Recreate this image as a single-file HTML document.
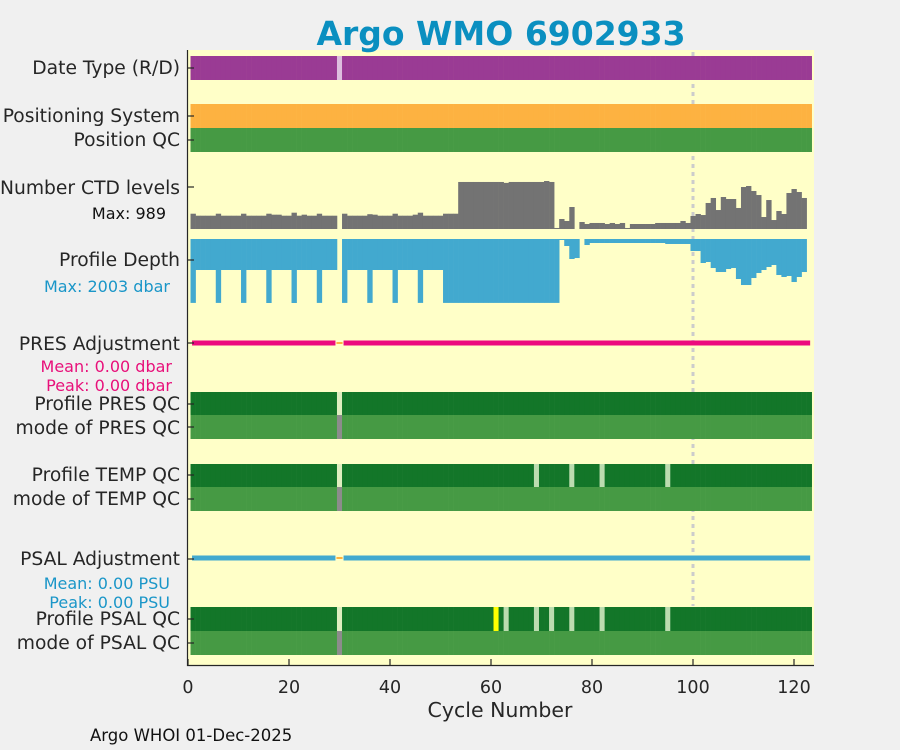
<!DOCTYPE html>
<html><head><meta charset="utf-8"><style>
body{margin:0;background:#f0f0f0;}
svg{display:block;font-family:"DejaVu Sans","Liberation Sans",sans-serif;}
</style></head><body>
<svg id="c" width="900" height="750">
<rect width="900" height="750" fill="#f0f0f0"/>
<rect x="188" y="50" width="626" height="615" fill="#ffffc8"/>
<text x="501" y="45" text-anchor="middle" font-size="33" font-weight="bold" fill="#0a8fc0">Argo WMO 6902933</text>
<g id="marks"></g>
<g font-size="18.7" fill="#262626" text-anchor="end">
<text x="180" y="74">Date Type (R/D)</text>
<text x="180" y="122">Positioning System</text>
<text x="180" y="146">Position QC</text>
<text x="180" y="194">Number CTD levels</text>
<text x="180" y="266">Profile Depth</text>
<text x="180" y="350">PRES Adjustment</text>
<text x="180" y="410">Profile PRES QC</text>
<text x="180" y="434">mode of PRES QC</text>
<text x="180" y="481">Profile TEMP QC</text>
<text x="180" y="505">mode of TEMP QC</text>
<text x="180" y="565">PSAL Adjustment</text>
<text x="180" y="625">Profile PSAL QC</text>
<text x="180" y="649">mode of PSAL QC</text>
</g>
<g font-size="16" text-anchor="end">
<text x="166" y="219" fill="#111">Max: 989</text>
<text x="170" y="292" fill="#1a96c8">Max: 2003 dbar</text>
<text x="172" y="372" fill="#e8107a">Mean: 0.00 dbar</text>
<text x="172" y="391" fill="#e8107a">Peak: 0.00 dbar</text>
<text x="170" y="589" fill="#1a96c8">Mean: 0.00 PSU</text>
<text x="170" y="608" fill="#1a96c8">Peak: 0.00 PSU</text>
</g>
<text x="500" y="717" text-anchor="middle" font-size="20.5" fill="#262626">Cycle Number</text>
<text x="90" y="741" font-size="16.5" fill="#111">Argo WHOI 01-Dec-2025</text>
</svg>
<script>
const xTicks = [0,20,40,60,80,100,120];
const nCycles = 123;
const missingCycles = [30];
const ctdLevels = [315,274,274,274,274,315,274,274,274,274,315,274,274,274,274,315,295,295,274,274,336,274,295,274,274,315,274,274,274,null,
315,274,274,274,274,305,295,274,274,274,315,274,274,274,295,336,274,274,274,274,315,315,315,969,969,969,969,969,969,969,969,969,950,969,969,969,969,969,969,969,989,969,
21,206,165,453,null,144,103,124,124,124,103,124,103,124,21,103,103,103,103,103,124,124,124,124,124,165,124,268,309,288,536,639,391,659,618,618,433,865,886,783,700,247,597,185,371,309,742,824,762,639];
const profileDepth = [2000,970,970,970,970,2000,970,970,970,970,2000,970,970,970,970,2003,970,970,970,970,2003,970,970,970,970,2000,970,970,970,null,
2000,970,970,970,970,2000,970,970,970,970,2000,970,970,970,970,2000,970,970,970,970,2000,2000,2000,2000,2000,2000,2000,2000,2000,2000,2000,2000,2000,2000,2000,2000,2000,2000,2000,2000,2000,2000,2000,
31,219,626,595,null,188,125,125,125,125,125,125,125,125,125,125,125,125,125,125,125,156,156,156,156,156,376,376,751,720,908,1033,1033,939,908,1252,1440,1440,1221,1064,970,876,814,1127,1189,1158,1346,1189,1033];
const tempQcFlagged = [69,76,82,95];
const psalQcFlagged = [63,69,72,76,82,95];
const psalQcBad = [61];
const ctdMax = 989, depthMax = 2003;

const svg = document.getElementById('c');
const g = document.getElementById('marks');
const NS = 'http://www.w3.org/2000/svg';
const X0 = 188, XS = 5.05;
function xs(c){ return X0 + c*XS; }
function el(tag, attrs, parent){ const e = document.createElementNS(NS, tag); for (const k in attrs) e.setAttribute(k, attrs[k]); (parent||g).appendChild(e); return e; }

const dl = el('line', {x1:xs(100), x2:xs(100), y1:52, y2:606, stroke:'#cccccc', 'stroke-width':3, 'stroke-dasharray':'4,4'});



function row(y0, y1, color, name, special){
  for (let c = 1; c <= nCycles; c++){
    let col = color;
    if (special && special[c]) col = special[c];
    const r = el('rect', {x:xs(c-0.5), y:y0, width:XS+0.3, height:y1-y0, fill:col});
    
    
  }
}
const m30 = {}; missingCycles.forEach(c => m30[c] = '#ddbede');
row(56, 80, '#9a3b94', 'date-type', m30);
row(104, 128, '#fdb241', 'positioning-system');
row(128, 152, '#469a44', 'position-qc');
const presQcSp = {}; missingCycles.forEach(c => presQcSp[c] = '#dfeec0');
row(392, 415, '#137629', 'profile-pres-qc', presQcSp);
const modeSp = {}; missingCycles.forEach(c => modeSp[c] = '#8c8c8c');
row(415, 439, '#469a44', 'mode-pres-qc', modeSp);
const tSp = {}; missingCycles.forEach(c => tSp[c] = '#dfeec0'); tempQcFlagged.forEach(c => tSp[c] = '#bcdcb0');
row(464, 487, '#137629', 'profile-temp-qc', tSp);
row(487, 511, '#469a44', 'mode-temp-qc', modeSp);
const sSp = {}; missingCycles.forEach(c => sSp[c] = '#dfeec0'); psalQcFlagged.forEach(c => sSp[c] = '#bcdcb0'); psalQcBad.forEach(c => sSp[c] = '#ffff00');
row(607, 631, '#137629', 'profile-psal-qc', sSp);
row(631, 655, '#469a44', 'mode-psal-qc', modeSp);

const ctdBase = 229, ctdH = 48;
ctdLevels.forEach((v, i) => {
  if (v == null) return;
  const h = v / ctdMax * ctdH;
  const r = el('rect', {x:xs(i+0.5), y:ctdBase-h, width:XS+0.3, height:h, fill:'#737373'});
  
  
});
const depTop = 239, depH = 64;
profileDepth.forEach((v, i) => {
  if (v == null) return;
  const h = v / depthMax * depH;
  const r = el('rect', {x:xs(i+0.5), y:depTop, width:XS+0.3, height:h, fill:'#42a9cf'});
  
  
});
function adjLine(y, color, name){
  const a = el('rect', {x:xs(1)-1, y:y-2.5, width:xs(29)-xs(1)+2, height:5, fill:color});
  
  
  const b = el('rect', {x:xs(31)-1, y:y-2.5, width:xs(123)-xs(31)+2, height:5, fill:color});
  
  
  const gp = el('rect', {x:xs(29)+2, y:y-1, width:xs(31)-xs(29)-4, height:2, fill:'#fdb241'});
  
  
}
adjLine(343, '#ec0a7e', 'pres-adjustment');
adjLine(558, '#42a9cf', 'psal-adjustment');

const ax = el('path', {d:'M187.5 50 V665.5 H814', stroke:'#262626', 'stroke-width':1.2, fill:'none'}, svg);


[68,116,140,187,260,343,404,427,475,499,559,619,643].forEach(y => {
  const t = el('line', {x1:188, x2:194, y1:y, y2:y, stroke:'#262626', 'stroke-width':1.2}, svg);
  
  
});
xTicks.forEach(v => {
  const t = el('line', {x1:xs(v), x2:xs(v), y1:665, y2:659, stroke:'#262626', 'stroke-width':1.2}, svg);
  
  
  const l = el('text', {x:xs(v), y:693, 'text-anchor':'middle', 'font-size':17.5, fill:'#262626'}, svg);
  l.textContent = v;
  
  
});
</script>
</body></html>
